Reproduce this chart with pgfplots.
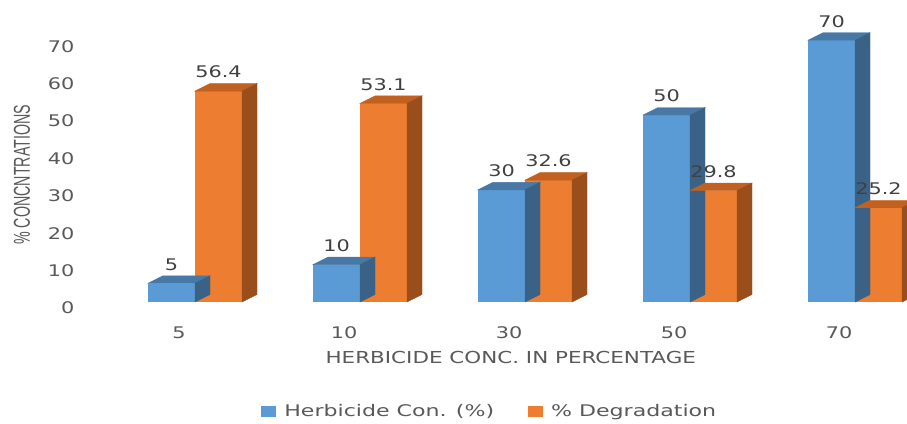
\documentclass[border=0pt]{standalone}
\usepackage{pgfplots}
\pgfplotsset{compat=1.18}
\usepackage{pgfplotstable}
\usepackage{fontspec}
\setmainfont{DejaVu Sans}[FakeStretch=1.3]
\newfontfamily\legfont{DejaVu Sans}[FakeStretch=1.38]
\newfontfamily\ylabfont{Liberation Sans}[FakeStretch=0.62]
\definecolor{bfront}{HTML}{5B9BD5}
\definecolor{btop}{HTML}{4878A6}
\definecolor{bside}{HTML}{3A6287}
\definecolor{ofront}{HTML}{ED7D31}
\definecolor{otop}{HTML}{C2611F}
\definecolor{oside}{HTML}{9A4E1C}
\definecolor{txt}{HTML}{595959}
\definecolor{lbl}{HTML}{404040}

\pgfplotstableread{
x y
0 5
1 10
2 30
3 50
4 70
}\herb
\pgfplotstableread{
x y
0 56.4
1 53.1
2 32.6
3 29.8
4 25.2
}\degr

\begin{document}
\begin{tikzpicture}
\path[use as bounding box] (0pt,0pt) rectangle (907pt,423pt);
\begin{axis}[
  at={(100pt,121pt)}, anchor=south west,
  x=165pt, y=3.74pt,
  xmin=-0.576, xmax=4.315, ymin=0, ymax=72,
  clip=false,
  axis x line*=bottom, axis y line*=left,
  axis line style={draw=none},
  tick style={draw=none},
  major tick length=0pt,
  xtick={0,1,2,3,4},
  xticklabels={5,10,30,50,70},
  ytick={0,10,...,70},
  /pgf/number format/assume math mode=true,
  tick label style={font=\fontsize{16}{19}\selectfont, text=txt},
  xticklabel style={anchor=center, yshift=-31pt, xshift=-16pt},
  yticklabel style={anchor=east, xshift=-22pt, yshift=-6pt},
  xlabel={HERBICIDE CONC. IN PERCENTAGE},
  xlabel style={at={(rel axis cs:0.509,0)}, anchor=center, yshift=-55pt,
    font=\fontsize{16.5}{19}\selectfont, text=txt},
  ylabel={\% CONCNTRATIONS},
  ylabel style={at={(rel axis cs:0,0.472)}, anchor=center, yshift=78pt,
    font=\ylabfont\fontsize{23}{25}\selectfont, text=txt},
  legend columns=2,
  legend style={at={(rel axis cs:0.483,0)}, anchor=center, yshift=-109pt,
    draw=none, fill=none, font=\legfont\fontsize{16}{19}\selectfont, text=txt,
    /tikz/every even column/.append style={column sep=32pt}},
  every node near coord/.append style={anchor=center, yshift=19pt,
    font=\fontsize{16}{19}\selectfont, text=lbl},
]
% Herbicide front faces
\addplot[ybar, bar width=47pt, bar shift=-23.5pt, fill=bfront, draw=none,
  nodes near coords,
  every node near coord/.append style={xshift=-23.5pt},
  legend image code/.code={\fill[bfront] (0pt,-5.5pt) rectangle (15pt,5.5pt); \path (21pt,0pt);}]
  table[x=x,y=y] {\herb};
\addlegendentry{Herbicide Con. (\%)}
% Herbicide top and side faces
\addplot[forget plot, scatter, only marks, mark=*, mark size=0pt,
  mark options={draw=none, fill=none},
  visualization depends on={\thisrow{y} \as \yv},
  scatter/@pre marker code/.code={%
    \pgfmathsetmacro\hh{\yv*3.74}%
    \fill[btop] (-47pt,0pt) -- (-32pt,7.5pt) -- (15pt,7.5pt) -- (0pt,0pt) -- cycle;
    \fill[bside] (0pt,0pt) -- (15pt,7.5pt) -- (15pt,7.5pt-\hh pt) -- (0pt,-\hh pt) -- cycle;
    \scope},
  scatter/@post marker code/.code={\endscope}]
  table[x=x,y=y] {\herb};
% Degradation front faces
\addplot[ybar, bar width=47pt, bar shift=23.5pt, fill=ofront, draw=none,
  nodes near coords,
  every node near coord/.append style={xshift=23.5pt},
  legend image code/.code={\fill[ofront] (0pt,-5.5pt) rectangle (15pt,5.5pt); \path (21pt,0pt);}]
  table[x=x,y=y] {\degr};
\addlegendentry{\% Degradation}
% Degradation top and side faces
\addplot[forget plot, scatter, only marks, mark=*, mark size=0pt,
  mark options={draw=none, fill=none},
  visualization depends on={\thisrow{y} \as \yv},
  scatter/@pre marker code/.code={%
    \pgfmathsetmacro\hh{\yv*3.74}%
    \fill[otop] (0pt,0pt) -- (15pt,7.5pt) -- (62pt,7.5pt) -- (47pt,0pt) -- cycle;
    \fill[oside] (47pt,0pt) -- (62pt,7.5pt) -- (62pt,7.5pt-\hh pt) -- (47pt,-\hh pt) -- cycle;
    \scope},
  scatter/@post marker code/.code={\endscope}]
  table[x=x,y=y] {\degr};
\end{axis}
\end{tikzpicture}
\end{document}
